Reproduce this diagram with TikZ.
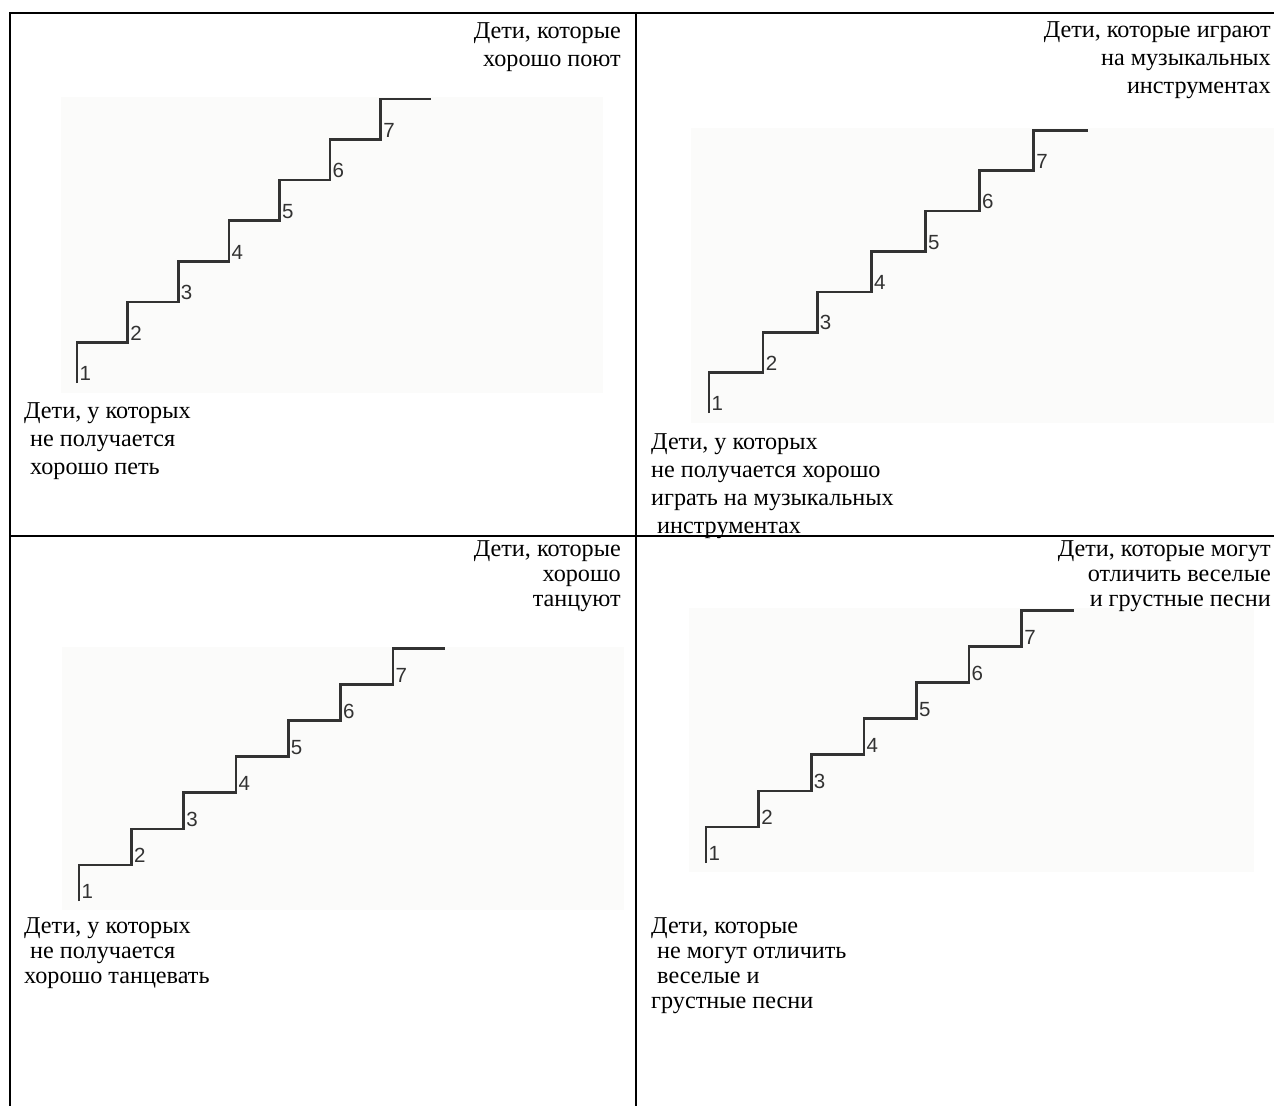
\documentclass[tikz,border=0pt]{standalone}
\usepackage{fontspec}
\setmainfont{Liberation Serif}
\newfontfamily\numfont{Liberation Sans}

\definecolor{paper}{RGB}{251,251,250}
\definecolor{stairgray}{RGB}{50,50,50}

\tikzset{
	rule/.style={line width=2pt},
	stairline/.style={stairgray,line width=2.6pt},
	stepnum/.style={anchor=south west,inner sep=0pt,text=stairgray,font=\numfont\fontsize{20.5}{20.5}\selectfont},
	toplabel/.style={anchor=north east,inner sep=0pt,align=right},
	lowlabel/.style={anchor=north west,inner sep=0pt,align=left},
}

\begin{document}
\begin{tikzpicture}[x=1pt,y=-1pt]
		\useasboundingbox (0,0) rectangle (1274,1106);
		
		% top left: singing
		\fill[paper] (61,97) rectangle (603,393);
		\draw[stairline] (77,383) \foreach \i in {1,...,7}{ |- ++(50.6,-40.6) };
		\foreach \i in {1,...,7}
			\node[stepnum] (sing\i) at ({79.5+(\i-1)*50.6},{381-(\i-1)*40.6}) {\i};
		\node[toplabel,font=\fontsize{24.2}{28}\selectfont] (singtop) at (621,22) {Дети, которые\\хорошо поют};
		\node[lowlabel,font=\fontsize{24.2}{28}\selectfont] (singlow) at (24,402) {Дети, у которых\\\hspace*{6pt}не получается\\\hspace*{6pt}хорошо петь};
		
		% top right: instruments
		\fill[paper] (691,128) rectangle (1274,423);
		\draw[stairline] (709,413) \foreach \i in {1,...,7}{ |- ++(54.1,-40.4) };
		\foreach \i in {1,...,7}
			\node[stepnum] (play\i) at ({711.5+(\i-1)*54.1},{411-(\i-1)*40.4}) {\i};
		\node[toplabel,font=\fontsize{24.2}{28}\selectfont] (playtop) at (1271,21) {Дети, которые играют\\на музыкальных\\инструментах};
		\node[lowlabel,font=\fontsize{24.2}{28}\selectfont] (playlow) at (651,433) {Дети, у которых\\не получается хорошо\\играть на музыкальных\\\hspace*{6pt}инструментах};
		
		% bottom left: dancing
		\fill[paper] (62,647) rectangle (624,910);
		\draw[stairline] (79,901) \foreach \i in {1,...,7}{ |- ++(52.3,-36.1) };
		\foreach \i in {1,...,7}
			\node[stepnum] (dance\i) at ({81.5+(\i-1)*52.3},{899-(\i-1)*36.1}) {\i};
		\node[toplabel,font=\fontsize{24.2}{25}\selectfont] (dancetop) at (621,540) {Дети, которые\\хорошо\\танцуют};
		\node[lowlabel,font=\fontsize{24.2}{25}\selectfont] (dancelow) at (24,917) {Дети, у которых\\\hspace*{6pt}не получается\\хорошо танцевать};
		
		% bottom right: songs
		\fill[paper] (689,608) rectangle (1254,872);
		\draw[stairline] (706,863) \foreach \i in {1,...,7}{ |- ++(52.6,-36.1) };
		\foreach \i in {1,...,7}
			\node[stepnum] (song\i) at ({708.5+(\i-1)*52.6},{861-(\i-1)*36.1}) {\i};
		\node[toplabel,font=\fontsize{24.2}{25}\selectfont] (songtop) at (1271,540) {Дети, которые могут\\отличить веселые\\и грустные песни};
		\node[lowlabel,font=\fontsize{24.2}{25}\selectfont] (songlow) at (651,917) {Дети, которые\\\hspace*{6pt}не могут отличить\\\hspace*{6pt}веселые и\\грустные песни};
		
		% table rules
		\draw[rule] (9,13) -- (1274,13);
		\draw[rule] (10,13) -- (10,1106);
		\draw[rule] (636,13) -- (636,1106);
		\draw[rule] (9,536) -- (1274,536);
	\end{tikzpicture}
\end{document}
